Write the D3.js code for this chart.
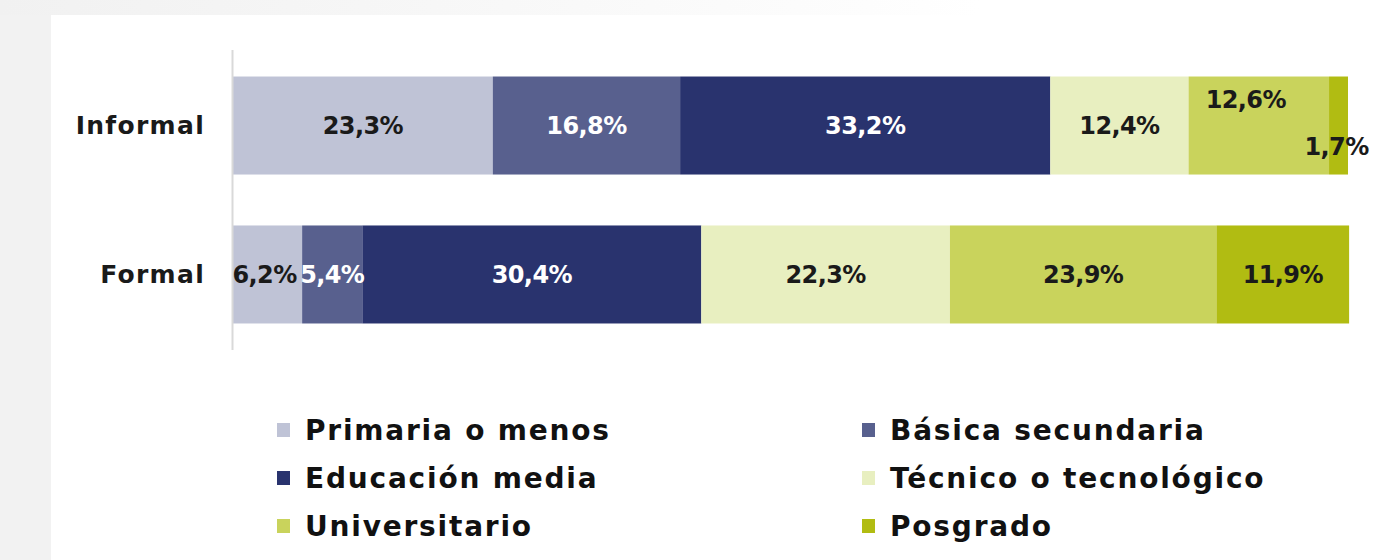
<!DOCTYPE html>
<html>
<head>
<meta charset="utf-8">
<script src="https://cdn.jsdelivr.net/npm/d3@7"></script>
<style>
  html, body { margin: 0; padding: 0; background: #fff; }
  svg { display: block; font-family: "DejaVu Sans", sans-serif; }
</style>
</head>
<body>
<svg id="chart" width="1400" height="560"></svg>
<script>
// data
var categories = ["Informal", "Formal"];
var levels = ["Primaria o menos", "Básica secundaria", "Educación media",
              "Técnico o tecnológico", "Universitario", "Posgrado"];
var informal = [23.3, 16.8, 33.2, 12.4, 12.6, 1.7];
var formal   = [6.2, 5.4, 30.4, 22.3, 23.9, 11.9];
var colors = ["#bfc3d6", "#58608e", "#29336e", "#e8efc0", "#c9d35c", "#b1bc12"];
var labelColors = ["#1a1a1a", "#ffffff", "#ffffff", "#1a1a1a", "#1a1a1a", "#1a1a1a"];

var svg = d3.select("#chart");

// background: grey margin with fading strip on top, white panel
var defs = svg.append("defs");
var grad = defs.append("linearGradient").attr("id", "topfade")
  .attr("x1", "0%").attr("x2", "100%").attr("y1", "0%").attr("y2", "0%");
grad.append("stop").attr("offset", "0%").attr("stop-color", "#f1f1f1");
grad.append("stop").attr("offset", "62%").attr("stop-color", "#fdfdfd");
grad.append("stop").attr("offset", "70%").attr("stop-color", "#ffffff");
svg.append("rect").attr("width", 1400).attr("height", 560).attr("fill", "#f2f2f2");
svg.append("rect").attr("width", 1400).attr("height", 15).attr("fill", "url(#topfade)");
svg.append("rect").attr("x", 51).attr("y", 15).attr("width", 1349).attr("height", 545).attr("fill", "#fff");

var x = d3.scaleLinear().domain([0, 100]).range([233, 1348]);
var y = d3.scaleBand().domain(categories).range([50, 350])
  .paddingInner(0.342).paddingOuter(0.178);

var rows = [informal, formal].map(function(vals, i) {
  var acc = 0;
  return vals.map(function(v, j) {
    var d = { cat: categories[i], level: j, value: v, x0: acc, x1: acc + v };
    acc += v;
    return d;
  });
});
var segs = d3.merge(rows);

// bars
svg.append("g").selectAll("rect")
  .data(segs)
  .enter().append("rect")
  .attr("x", d => x(d.x0))
  .attr("y", d => y(d.cat))
  .attr("width", d => x(d.x1) - x(d.x0))
  .attr("height", y.bandwidth())
  .attr("fill", d => colors[d.level]);

// axis line
svg.append("line")
  .attr("x1", 232.5).attr("x2", 232.5)
  .attr("y1", 50).attr("y2", 350)
  .attr("stroke", "#d9d9d9").attr("stroke-width", 2);

// category labels
svg.append("g").selectAll("text")
  .data(categories)
  .enter().append("text")
  .attr("x", 205)
  .attr("y", d => y(d) + y.bandwidth() / 2)
  .attr("dy", "0.35em")
  .attr("text-anchor", "end")
  .attr("font-size", 25)
  .attr("font-weight", "bold")
  .attr("letter-spacing", 1.3)
  .attr("fill", "#1a1a1a")
  .text(d => d);

// small segments on Informal have their labels nudged
function nudge(d) {
  if (d.cat === "Informal" && d.level === 4) return [-13, -26];
  if (d.cat === "Informal" && d.level === 5) return [-2, 21];
  if (d.cat === "Formal" && d.level === 0) return [-3, 0];
  return [0, 0];
}

svg.append("g").selectAll("text")
  .data(segs)
  .enter().append("text")
  .attr("x", d => (x(d.x0) + x(d.x1)) / 2 + nudge(d)[0])
  .attr("y", d => y(d.cat) + y.bandwidth() / 2 + nudge(d)[1])
  .attr("dy", "0.35em")
  .attr("text-anchor", "middle")
  .attr("font-size", 24)
  .attr("font-weight", "bold")
  .attr("letter-spacing", -0.6)
  .attr("fill", d => labelColors[d.level])
  .text(d => d3.format(".1f")(d.value).replace(".", ",") + "%");

// legend, two columns
var legend = svg.append("g").selectAll("g")
  .data(levels)
  .enter().append("g")
  .attr("transform", (d, i) => "translate(" + (i % 2 ? 862 : 277) + "," + (430 + Math.floor(i / 2) * 48) + ")");

legend.append("rect")
  .attr("x", 0).attr("y", -7)
  .attr("width", 13).attr("height", 14)
  .attr("fill", (d, i) => colors[i]);

legend.append("text")
  .attr("x", 28)
  .attr("dy", "0.36em")
  .attr("font-size", 28)
  .attr("font-weight", "bold")
  .attr("letter-spacing", 1.8)
  .attr("fill", "#111")
  .text(d => d);
</script>
</body>
</html>
